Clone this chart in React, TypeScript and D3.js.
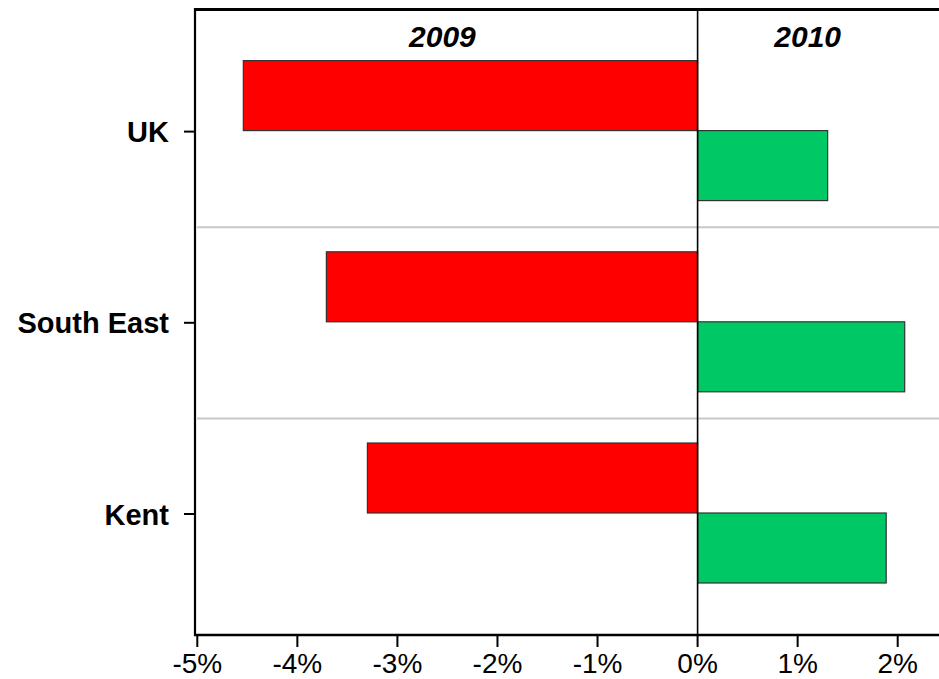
import React from "react";
import * as d3 from "d3";

// Annual change by area, 2009 vs 2010
const categories = ["UK", "South East", "Kent"];
const years = ["2009", "2010"];
const values2009 = [-4.54, -3.71, -3.3];
const values2010 = [1.3, 2.07, 1.885];
const xTicks = [-5, -4, -3, -2, -1, 0, 1, 2];
const yearLabelAt = [-2.55, 1.1];

const W = 939;
const H = 679;
const FONT = "'Liberation Sans', Arial, Helvetica, sans-serif";
const COLORS: Record<string, string> = { "2009": "#FF0000", "2010": "#00C864" };

export default function App() {
  const x = d3.scaleLinear().domain([-5, 2]).range([197.3, 897.7]);
  const y = d3.scaleBand<string>().domain(categories).range([36, 609.6]).padding(0);
  const inner = d3.scaleBand<string>().domain(years).range([-71, 69]).padding(0);

  const top = 9.5;
  const bottom = 635;
  const left = 195;
  const right = W + 20;

  const series = [values2009, values2010];

  return (
    <svg
      width={W}
      height={H}
      style={{ position: "absolute", left: 0, top: 0, background: "#fff" }}
      fontFamily={FONT}
    >
      {/* category separators */}
      {categories.slice(1).map((c) => (
        <line
          key={"sep" + c}
          x1={left + 2}
          x2={right}
          y1={y(c)!}
          y2={y(c)!}
          stroke="#C8C8C8"
          strokeWidth={2}
        />
      ))}

      {/* bars */}
      {categories.map((c, i) =>
        years.map((yr, j) => {
          const v = series[j][i];
          const cy = y(c)! + y.bandwidth() / 2;
          const y0 = cy + inner(yr)!;
          const x0 = Math.min(x(0), x(v));
          const x1 = Math.max(x(0), x(v));
          return (
            <rect
              key={c + yr}
              x={x0}
              y={y0}
              width={x1 - x0}
              height={inner.bandwidth()}
              fill={COLORS[yr]}
              stroke="#333"
              strokeWidth={1.2}
            />
          );
        })
      )}

      {/* zero line */}
      <line x1={x(0)} x2={x(0)} y1={top} y2={bottom} stroke="#000" strokeWidth={1.6} />

      {/* frame: top and left */}
      <line x1={left - 1} x2={right} y1={top} y2={top} stroke="#000" strokeWidth={3} />
      <line x1={left} x2={left} y1={top - 1.5} y2={bottom + 1} stroke="#000" strokeWidth={2.2} />

      {/* bottom axis */}
      <line x1={left - 1} x2={right} y1={bottom} y2={bottom} stroke="#000" strokeWidth={2.4} />
      {xTicks.map((t) => (
        <g key={"xt" + t}>
          <line x1={x(t)} x2={x(t)} y1={bottom} y2={647} stroke="#000" strokeWidth={2} />
          <text x={x(t)} y={672.5} textAnchor="middle" fontSize={28} fill="#000">
            {`${t}%`}
          </text>
        </g>
      ))}

      {/* category axis */}
      {categories.map((c) => {
        const cy = y(c)! + y.bandwidth() / 2;
        return (
          <g key={"yt" + c}>
            <line x1={184} x2={left} y1={cy} y2={cy} stroke="#000" strokeWidth={2} />
            <text
              x={169}
              y={cy + 10.5}
              textAnchor="end"
              fontSize={29}
              fontWeight="bold"
              fill="#000"
            >
              {c}
            </text>
          </g>
        );
      })}

      {/* year headers */}
      {years.map((yr, j) => (
        <text
          key={"yr" + yr}
          x={x(yearLabelAt[j])}
          y={46.7}
          textAnchor="middle"
          fontSize={30}
          fontWeight="bold"
          fontStyle="italic"
          fill="#000"
        >
          {yr}
        </text>
      ))}
    </svg>
  );
}
